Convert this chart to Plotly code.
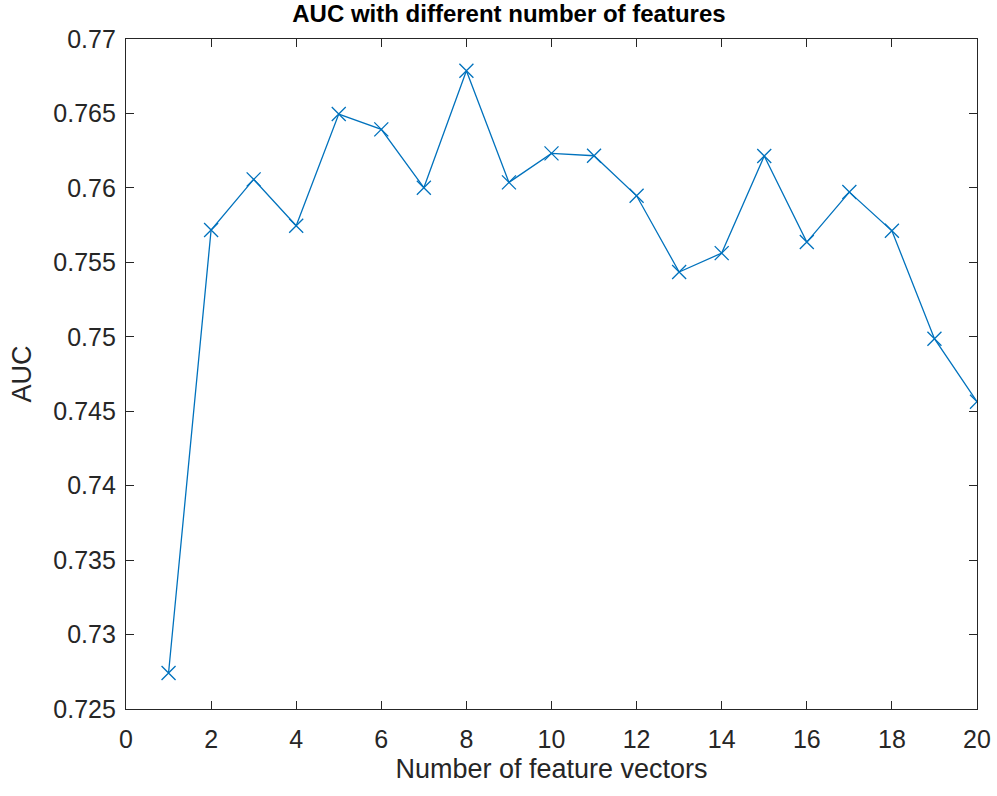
import plotly.graph_objects as go

num_features = list(range(1, 21))
auc = [0.72742, 0.75717, 0.76057, 0.75746, 0.76496, 0.76393, 0.76001, 0.76787,
       0.76037, 0.76232, 0.76216, 0.75947, 0.75435, 0.75562, 0.76214, 0.75636,
       0.75972, 0.75712, 0.74987, 0.74564]
x_ticks = list(range(0, 21, 2))
y_ticks = [0.725, 0.73, 0.735, 0.74, 0.745, 0.75, 0.755, 0.76, 0.765, 0.77]
y_tick_text = ["0.725", "0.73", "0.735", "0.74", "0.745", "0.75", "0.755", "0.76", "0.765", "0.77"]

FONT = "Liberation Sans, Arial"
fig = go.Figure(go.Scatter(
    x=num_features, y=auc, mode="lines+markers",
    line=dict(color="#0072BD", width=1.3),
    marker=dict(symbol="x-thin-open", size=14, line=dict(color="#0072BD", width=1.3)),
))

axis_common = dict(
    showgrid=False, zeroline=False, showline=True, linecolor="#262626", linewidth=1.3,
    mirror="ticks", ticks="inside", ticklen=8, tickcolor="#262626", tickwidth=1.3,
    tickfont=dict(family=FONT, size=25, color="#262626"), automargin=False,
)

fig.update_layout(
    width=997, height=796,
    margin=dict(l=126, r=20, t=39, b=87),
    paper_bgcolor="white", plot_bgcolor="white",
    showlegend=False,
    title=dict(text="<b>AUC with different number of features</b>", xref="paper", x=0.45,
               xanchor="center", yref="container", y=0.993, yanchor="top",
               font=dict(family=FONT, size=24, color="black")),
    xaxis=dict(range=[0, 20], tickvals=x_ticks, ticklabelstandoff=8,
               title=dict(text="Number of feature vectors", standoff=6,
                          font=dict(family=FONT, size=27, color="#262626")),
               **axis_common),
    yaxis=dict(range=[0.725, 0.77], tickvals=y_ticks, ticktext=y_tick_text,
               ticklabelstandoff=4,
               title=dict(text="AUC", standoff=13,
                          font=dict(family=FONT, size=27, color="#262626")),
               **axis_common),
)

fig.write_html("out.html")
